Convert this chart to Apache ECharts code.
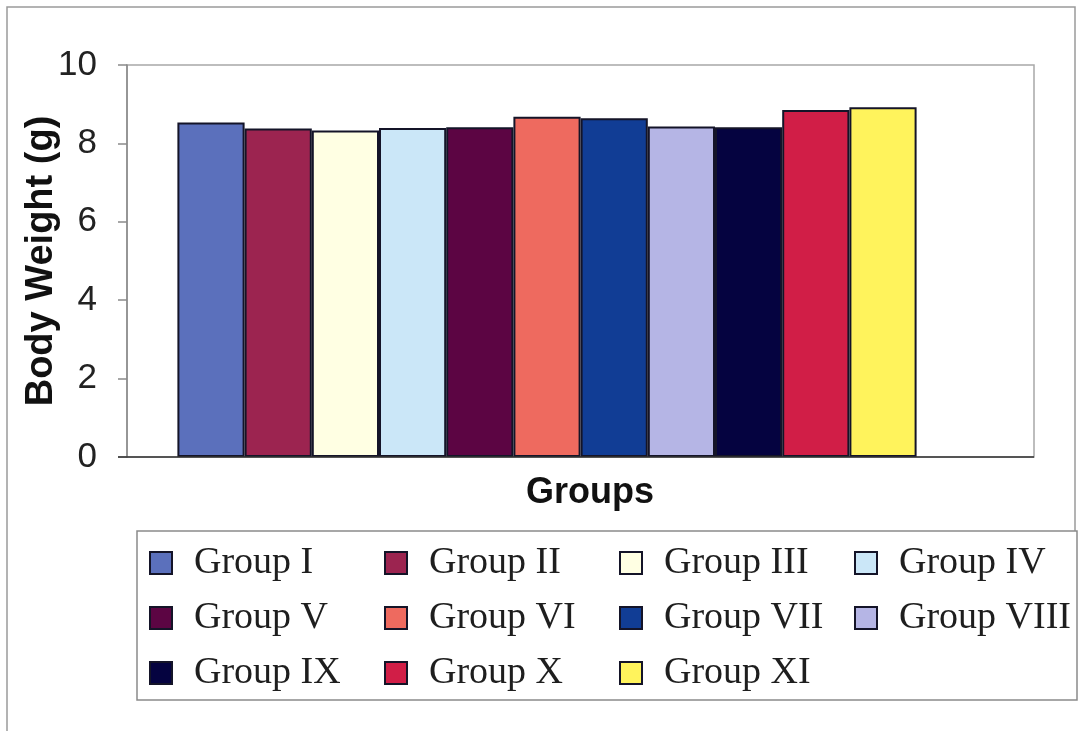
<!DOCTYPE html>
<html>
<head>
<meta charset="utf-8">
<script src="https://cdn.jsdelivr.net/npm/echarts@6/dist/echarts.min.js"></script>
<style>
  html, body { margin: 0; padding: 0; background: #fff; }
  #chart { width: 1081px; height: 731px; }
</style>
</head>
<body>
<div id="chart"></div>
<script>
// Body weight per experimental group (g)
const groupNames = ['Group I', 'Group II', 'Group III', 'Group IV', 'Group V', 'Group VI',
                    'Group VII', 'Group VIII', 'Group IX', 'Group X', 'Group XI'];
const bodyWeights = [8.53, 8.38, 8.33, 8.39, 8.41, 8.68, 8.64, 8.43, 8.41, 8.85, 8.92];
const groupColors = ['#5B70BC', '#9C2450', '#FFFFE3', '#CBE7F8', '#5C0543', '#EE6A5F',
                     '#113D95', '#B5B5E5', '#050340', '#D11E47', '#FFF35C'];
const yTicks = { min: 0, max: 10, step: 2 };
const xTitle = 'Groups';
const yTitle = 'Body Weight (g)';

const chart = echarts.init(document.getElementById('chart'), null, { renderer: 'canvas' });

const series = groupNames.map((name, i) => ({
  name: name,
  type: 'bar',
  data: [bodyWeights[i]],
  barGap: '0%',
  barCategoryGap: '12%',
  itemStyle: { color: groupColors[i], borderColor: '#141428', borderWidth: 2 },
  emphasis: { disabled: true }
}));

// legend laid out as four aligned columns
const legendCols = [0, 1, 2, 3].map(c => groupNames.filter((_, i) => i % 4 === c));
const legendLefts = [149, 384, 619, 854];
const legends = legendCols.map((names, c) => ({
  data: names,
  orient: 'vertical',
  left: legendLefts[c],
  top: 543,
  padding: 0,
  itemWidth: 22,
  itemHeight: 22,
  itemGap: 15,
  icon: 'rect',
  selectedMode: false,
  itemStyle: { borderColor: '#141428', borderWidth: 2 },
  textStyle: {
    fontFamily: 'Liberation Serif',
    fontSize: 38,
    lineHeight: 40,
    color: '#1e1e1e',
    padding: [0, 0, 0, 17]
  }
}));

chart.setOption({
  animation: false,
  backgroundColor: '#ffffff',
  grid: { left: 127, top: 65, width: 840, height: 392, containLabel: false },
  title: {
    text: xTitle,
    left: 590,
    top: 475,
    textAlign: 'center',
    padding: 0,
    textStyle: { fontFamily: 'Liberation Sans', fontWeight: 'bold', fontSize: 36, color: '#111' }
  },
  legend: legends,
  xAxis: {
    type: 'category',
    data: [''],
    axisLine: { show: false },
    axisTick: { show: false },
    axisLabel: { show: false },
    splitLine: { show: false }
  },
  yAxis: {
    type: 'value',
    min: yTicks.min,
    max: yTicks.max,
    interval: yTicks.step,
    name: yTitle,
    nameLocation: 'middle',
    nameGap: 66,
    nameMoveOverlap: false,
    nameTextStyle: { fontFamily: 'Liberation Sans', fontWeight: 'bold', fontSize: 38, color: '#111' },
    axisLine: { show: true, lineStyle: { color: '#8a8a8a', width: 1.5 } },
    axisTick: { show: true, inside: false, length: 9, lineStyle: { color: '#8a8a8a', width: 1.5 } },
    axisLabel: { fontFamily: 'Liberation Sans', fontSize: 35, color: '#222', margin: 30 },
    splitLine: { show: false }
  },
  graphic: [
    // outer chart frame
    { type: 'polyline', silent: true, z: 0,
      shape: { points: [[7, 731], [7, 7], [1075, 7], [1075, 531]] },
      style: { fill: null, stroke: '#9a9a9a', lineWidth: 1.5 } },
    // plot area frame
    { type: 'rect', silent: true, z: 0,
      shape: { x: 127, y: 65, width: 907, height: 392 },
      style: { fill: null, stroke: '#a8a8a8', lineWidth: 1.5 } },
    // category axis base line
    { type: 'line', silent: true, z: 10,
      shape: { x1: 118, y1: 457, x2: 1034, y2: 457 },
      style: { stroke: '#333', lineWidth: 1.5 } },
    // legend box
    { type: 'rect', silent: true, z: 0,
      shape: { x: 137, y: 531, width: 940, height: 169 },
      style: { fill: null, stroke: '#8a8a8a', lineWidth: 1.5 } }
  ],
  series: series
});
</script>
</body>
</html>
